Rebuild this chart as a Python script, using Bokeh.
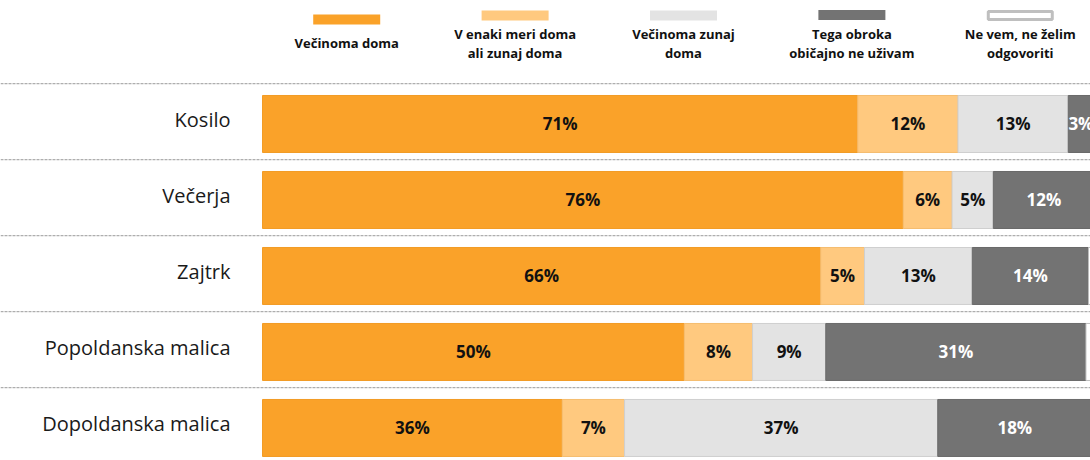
import numpy as np
from bokeh.plotting import figure
from bokeh.models import ColumnDataSource, Range1d, Span
from bokeh.core.properties import value
from bokeh.embed import file_html
from bokeh.resources import INLINE

# ---- data ----
categories = ["Kosilo", "Večerja", "Zajtrk", "Popoldanska malica", "Dopoldanska malica"]
vecinoma_doma = [70.7, 76.1, 66.3, 50.1, 35.6]
enako_doma_zunaj = [11.9, 5.8, 5.2, 8.1, 7.4]
vecinoma_zunaj = [13.1, 4.9, 12.8, 8.7, 37.2]
ne_uzivam = [3.0, 12.0, 13.8, 30.9, 18.3]
ne_vem = [1.3, 1.2, 1.9, 2.2, 1.8]

series_names = [
    "Večinoma doma",
    "V enaki meri doma\nali zunaj doma",
    "Večinoma zunaj\ndoma",
    "Tega obroka\nobičajno ne uživam",
    "Ne vem, ne želim\nodgovoriti",
]
series_values = [vecinoma_doma, enako_doma_zunaj, vecinoma_zunaj, ne_uzivam, ne_vem]

# ---- styles ----
fills = ["#FAA229", "#FFC97F", "#E3E3E3", "#737373", "#FFFFFF"]
edges = ["#F29B25", "#F5BD70", "#CFCFCF", "#6A6A6A", "#BFBFBF"]
label_colors = ["#111111", "#111111", "#111111", "#FFFFFF", "#111111"]
FONT = "Open Sans"

p = figure(width=1090, height=460, output_backend="svg", toolbar_location=None,
           x_range=Range1d(-31.12, 98.34), y_range=Range1d(4.428, -1.625),
           min_border=0, min_border_left=0, min_border_right=0,
           min_border_top=0, min_border_bottom=0)
p.axis.visible = False
p.xaxis.visible = False
p.yaxis.visible = False
p.grid.visible = False
p.outline_line_color = None
p.background_fill_color = "white"
p.border_fill_color = "white"

ys = np.arange(len(categories), dtype=float)
vals = np.array(series_values, dtype=float)
rights = np.cumsum(vals, axis=0)
lefts = rights - vals

# separators
for y in ys:
    p.add_layout(Span(location=y - 0.53, dimension="width", line_color="#9A9A9A",
                      line_width=1, line_dash="3 1"))

# bars + labels
for k in range(len(series_values)):
    src = ColumnDataSource(dict(
        y=ys, left=lefts[k], right=rights[k],
        mid=(lefts[k] + rights[k]) / 2,
        txt=[f"{round(v):d}%" for v in vals[k]],
    ))
    p.hbar(y="y", left="left", right="right", height=0.75, source=src,
           fill_color=fills[k], line_color=edges[k], line_width=1)
    if k < 4:
        p.text(x="mid", y="y", text="txt", source=src, text_align="center",
               text_baseline="middle", text_font=value(FONT), text_font_size="17px",
               text_font_style="bold", text_color=label_colors[k])

# row labels
p.text(x=[-3.8] * len(categories), y=ys, text=categories, text_align="right",
       text_baseline="middle", text_font=value(FONT), text_font_size="20px",
       text_color="#1A1A1A", y_offset=-4)

# legend (custom, swatch above centred text)
lx = [10 + 20 * i for i in range(len(series_names))]
sy = [-1.375, -1.428, -1.428, -1.435, -1.428]
for i in range(len(series_names)):
    p.rect(x=[lx[i]], y=[sy[i]], width=64 if i == 4 else 67, height=8 if i == 4 else 10,
           width_units="screen", height_units="screen",
           fill_color=fills[i], line_color=edges[i] if i == 4 else None,
           line_width=3 if i == 4 else 0)
p.text(x=lx, y=[-1.06] * len(lx), text=series_names, text_align="center",
       text_baseline="middle", text_font=value(FONT), text_font_size="13px",
       text_font_style="bold", text_color="#111111", text_line_height=1.1)

open("out.html", "w").write(file_html(p, INLINE))
